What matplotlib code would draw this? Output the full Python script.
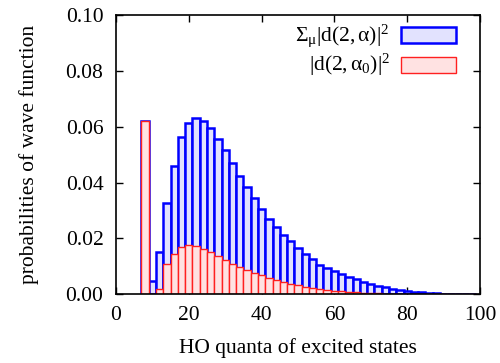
import numpy as np
import matplotlib
matplotlib.use("Agg")
import matplotlib.pyplot as plt
from matplotlib.patches import Rectangle

plt.rcParams.update({
    "font.family": ["Liberation Serif", "DejaVu Serif"],
    "mathtext.fontset": "custom",
    "mathtext.rm": "Liberation Serif",
    "mathtext.it": "Liberation Serif:italic",
    "mathtext.default": "regular",
    "font.size": 15.5,
})

# HO quanta (bin centres) and probabilities
quanta = list(range(8, 100, 2))
total_prob = [
    0.0622, 0.0049, 0.0150, 0.0328, 0.0460, 0.0563, 0.0613, 0.0632, 0.0621, 0.0595,
    0.0557, 0.0515, 0.0470, 0.0425, 0.0386, 0.0345, 0.0306, 0.0271, 0.0242, 0.0214,
    0.0190, 0.0166, 0.0144, 0.0125, 0.0106, 0.0094, 0.0082, 0.0073, 0.0062, 0.0054,
    0.0045, 0.0037, 0.0031, 0.0025, 0.0020, 0.0015, 0.0012, 0.0009, 0.0007, 0.0006,
    0.0004, 0.0003, 0.0002, 0.00015, 0.0001, 0.0001,
]
alpha0_prob = [
    0.0622, 0.0, 0.0021, 0.0109, 0.0146, 0.0171, 0.0177, 0.0174, 0.0162, 0.0151,
    0.0137, 0.0124, 0.0110, 0.0098, 0.0087, 0.0076, 0.0068, 0.0060, 0.0052, 0.0045,
    0.0038, 0.0032, 0.0027, 0.0024, 0.0019, 0.0016, 0.0013, 0.0011, 0.0009, 0.0007,
    0.0006, 0.0005, 0.0004, 0.0003, 0.00025, 0.0002, 0.00015, 0.0001, 0.0001, 0.00008,
    0.00006, 0.00004, 0.00003, 0.00002, 0.00001, 0.00001,
]
xticks = [0, 20, 40, 60, 80, 100]
yticks = [0.00, 0.02, 0.04, 0.06, 0.08, 0.10]

blue_face, blue_edge = "#e2e2fe", "#0000ff"
red_face, red_edge = "#ffe2e2", "#ff2020"

fig = plt.figure(figsize=(5.0, 3.63), dpi=100)
ax = fig.add_axes([0.232, 0.189, 0.728, 0.770])

ax.bar(quanta, total_prob, width=2.0, color=blue_face, edgecolor=blue_edge,
       linewidth=1.8, zorder=2)
ax.bar(quanta, alpha0_prob, width=2.0, color=red_face, edgecolor=red_edge,
       linewidth=1.0, zorder=3)

ax.set_xlim(0, 100)
ax.set_ylim(0, 0.10)
ax.set_xticks(xticks)
ax.set_yticks(yticks)
ax.set_yticklabels([f"{v:.2f}" for v in yticks])
ax.tick_params(direction="in", top=True, right=True, length=5, width=1.0,
               labelsize=15.5)
ax.tick_params(axis="y", pad=9)
ax.tick_params(axis="x", pad=8)
for s in ax.spines.values():
    s.set_linewidth(1.2)
    s.set_zorder(4)

ax.set_xlabel("HO quanta of excited states", fontsize=15.5, labelpad=10)
ax.set_ylabel("probabilities of wave function", fontsize=15.5, labelpad=19)

# key, text to the left of each sample box
entries = [
    (r"$\Sigma_{\mu}|d(2,\alpha)|^{2}$", blue_face, blue_edge, 1.8),
    (r"$|d(2,\alpha_{0})|^{2}$", red_face, red_edge, 1.0),
]
for i, (label, fc, ec, lw) in enumerate(entries):
    yc = 0.927 - i * 0.106
    ax.add_patch(Rectangle((0.782, yc - 0.028), 0.152, 0.056, transform=ax.transAxes,
                           facecolor=fc, edgecolor=ec, linewidth=lw, zorder=5))
    ax.text(0.752, yc, label, transform=ax.transAxes, ha="right", va="center",
            fontsize=15.5, zorder=5)

fig.savefig("out.png", dpi=100)
